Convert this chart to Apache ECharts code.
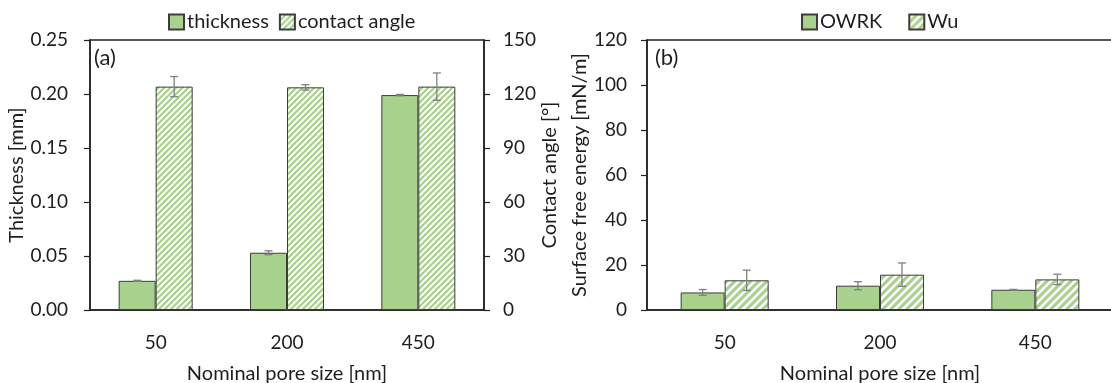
<!DOCTYPE html>
<html>
<head>
<meta charset="utf-8">
<script src="https://cdn.jsdelivr.net/npm/echarts@6/dist/echarts.min.js"></script>
<style>
  html, body { margin: 0; padding: 0; background: #fff; }
  #main { width: 1111px; height: 383px; }
</style>
</head>
<body>
<div id="main"></div>
<script>
// 数据
var poreSizes = ['50', '200', '450'];
var thickness = [0.027, 0.053, 0.199];
var thicknessErr = [0.0005, 0.0018, 0.0006];
var contactAngle = [124.1, 123.7, 124.1];
var contactAngleErr = [5.6, 1.5, 7.6];
var owrk = [7.8, 10.8, 9.0];
var owrkErr = [1.3, 1.8, 0.15];
var wu = [13.2, 15.7, 13.6];
var wuErr = [4.5, 5.2, 2.3];

var font = 'Lato, "Open Sans", sans-serif';
var txt = '#1e1e1e';
var green = '#a9d18e';

// 斜线填充
function stripes(n) {
    var c = document.createElement('canvas');
    c.width = c.height = n;
    var g = c.getContext('2d');
    g.fillStyle = '#fff';
    g.fillRect(0, 0, n, n);
    g.strokeStyle = green;
    g.lineWidth = n * 0.38;
    g.beginPath();
    g.moveTo(-1, n + 1); g.lineTo(n + 1, -1);
    g.moveTo(-n / 2 - 1, n / 2 + 1); g.lineTo(n / 2 + 1, -n / 2 - 1);
    g.moveTo(n / 2 - 1, n * 1.5 + 1); g.lineTo(n * 1.5 + 1, n / 2 - 1);
    g.stroke();
    return c;
}

function errData(vals, errs) {
    return vals.map(function (v, i) { return [i, v, errs[i]]; });
}

// 误差线
function errSeries(name, xi, yi, vals, errs, offset) {
    return {
        name: name + ' err',
        type: 'custom',
        xAxisIndex: xi,
        yAxisIndex: yi,
        z: 5,
        silent: true,
        encode: { x: 0, y: 1 },
        data: errData(vals, errs),
        renderItem: function (params, api) {
            var i = api.value(0), v = api.value(1), e = api.value(2);
            var hi = api.coord([i, v + e]);
            var lo = api.coord([i, v - e]);
            var x = hi[0] + offset;
            var st = { stroke: '#808080', lineWidth: 1.3 };
            return {
                type: 'group',
                children: [
                    { type: 'line', shape: { x1: x, y1: hi[1], x2: x, y2: lo[1] }, style: st },
                    { type: 'line', shape: { x1: x - 4, y1: hi[1], x2: x + 4, y2: hi[1] }, style: st },
                    { type: 'line', shape: { x1: x - 4, y1: lo[1], x2: x + 4, y2: lo[1] }, style: st }
                ]
            };
        }
    };
}

var myChart = echarts.init(document.getElementById('main'), null, { renderer: 'canvas' });

var axisLineStyle = { show: true, lineStyle: { color: '#222', width: 1.5 } };
var tickStyle = { show: true, length: 6, lineStyle: { color: '#222', width: 1.2 } };
var nameStyle = { fontFamily: font, fontSize: 20, color: txt };

var option = {
    backgroundColor: '#fff',
    textStyle: { fontFamily: font, color: txt },
    title: [
        { text: '(a)', left: 94, top: 47, padding: 0, textStyle: { fontFamily: font, fontSize: 22, fontWeight: 'normal', color: txt } },
        { text: '(b)', left: 655, top: 47, padding: 0, textStyle: { fontFamily: font, fontSize: 22, fontWeight: 'normal', color: txt } }
    ],
    legend: [
        {
            data: ['thickness', 'contact angle'],
            left: 168, top: 12, padding: 0,
            itemWidth: 15, itemHeight: 15, itemGap: 10,
            icon: 'rect',
            textStyle: { fontFamily: font, fontSize: 20, color: txt, padding: [0, 0, 0, -2] }
        },
        {
            data: ['OWRK', 'Wu'],
            left: 801, top: 12, padding: 0,
            itemWidth: 15, itemHeight: 15, itemGap: 26,
            icon: 'rect',
            textStyle: { fontFamily: font, fontSize: 20, color: txt, padding: [0, 0, 0, -2] }
        }
    ],
    grid: [
        { left: 90, top: 40, width: 394, height: 270, outerBoundsMode: 'none',
          show: true, borderColor: '#222', borderWidth: 1.5 },
        { left: 647, top: 40, width: 466, height: 270, outerBoundsMode: 'none',
          show: true, borderColor: '#222', borderWidth: 1.5 }
    ],
    xAxis: [
        {
            type: 'category', gridIndex: 0, data: poreSizes,
            axisLine: axisLineStyle, axisTick: { show: false },
            axisLabel: { fontFamily: font, fontSize: 19, color: txt, margin: 23 },
            name: 'Nominal pore size [nm]', nameLocation: 'middle', nameGap: 54,
            nameTextStyle: nameStyle
        },
        {
            type: 'category', gridIndex: 1, data: poreSizes,
            axisLine: axisLineStyle, axisTick: { show: false },
            axisLabel: { fontFamily: font, fontSize: 19, color: txt, margin: 23 },
            name: 'Nominal pore size [nm]', nameLocation: 'middle', nameGap: 54,
            nameTextStyle: nameStyle
        }
    ],
    yAxis: [
        {
            type: 'value', gridIndex: 0, min: 0, max: 0.25, interval: 0.05,
            axisLine: axisLineStyle, axisTick: tickStyle, splitLine: { show: false },
            axisLabel: { fontFamily: font, fontSize: 19, color: txt, margin: 22,
                formatter: function (v) { return v.toFixed(2); } },
            name: 'Thickness [mm]', nameLocation: 'middle', nameGap: 62,
            nameTextStyle: nameStyle
        },
        {
            type: 'value', gridIndex: 0, position: 'right', min: 0, max: 150, interval: 30,
            axisLine: axisLineStyle, axisTick: tickStyle, splitLine: { show: false },
            axisLabel: { fontFamily: font, fontSize: 19, color: txt, margin: 19 },
            name: 'Contact angle [°]', nameLocation: 'middle', nameGap: 54,
            nameTextStyle: nameStyle
        },
        {
            type: 'value', gridIndex: 1, min: 0, max: 120, interval: 20,
            axisLine: axisLineStyle, axisTick: tickStyle, splitLine: { show: false },
            axisLabel: { fontFamily: font, fontSize: 19, color: txt, margin: 20 },
            name: 'Surface free energy [mN/m]', nameLocation: 'middle', nameGap: 57,
            nameTextStyle: nameStyle
        }
    ],
    series: [
        {
            name: 'thickness', type: 'bar', xAxisIndex: 0, yAxisIndex: 0,
            data: thickness, barWidth: 37, barGap: '0%',
            itemStyle: { color: green, borderColor: '#3c3c3c', borderWidth: 1 }
        },
        {
            name: 'contact angle', type: 'bar', xAxisIndex: 0, yAxisIndex: 1,
            data: contactAngle, barWidth: 37, barGap: '0%',
            itemStyle: { color: { image: stripes(6), repeat: 'repeat' }, borderColor: '#3c3c3c', borderWidth: 1 }
        },
        {
            name: 'OWRK', type: 'bar', xAxisIndex: 1, yAxisIndex: 2,
            data: owrk, barWidth: 44, barGap: '0%',
            itemStyle: { color: green, borderColor: '#3c3c3c', borderWidth: 1 }
        },
        {
            name: 'Wu', type: 'bar', xAxisIndex: 1, yAxisIndex: 2,
            data: wu, barWidth: 44, barGap: '0%',
            itemStyle: { color: { image: stripes(8), repeat: 'repeat' }, borderColor: '#3c3c3c', borderWidth: 1 }
        },
        errSeries('thickness', 0, 0, thickness, thicknessErr, -18.5),
        errSeries('contact angle', 0, 1, contactAngle, contactAngleErr, 18.5),
        errSeries('OWRK', 1, 2, owrk, owrkErr, -22),
        errSeries('Wu', 1, 2, wu, wuErr, 22)
    ]
};

myChart.setOption(option);
</script>
</body>
</html>
